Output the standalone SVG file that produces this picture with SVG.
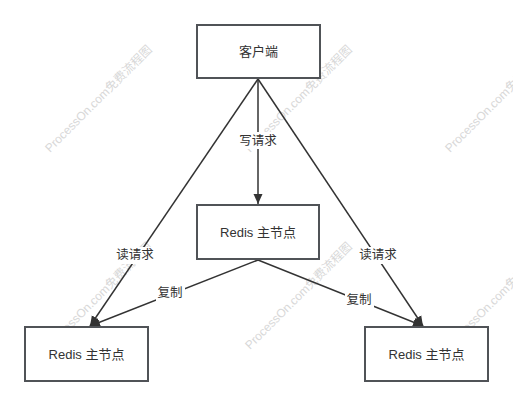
<svg xmlns="http://www.w3.org/2000/svg" width="513" height="407" viewBox="0 0 513 407">
<defs>
<marker id="arr" markerWidth="10" markerHeight="10" viewBox="0 0 10 10" refX="10" refY="5" orient="auto" markerUnits="userSpaceOnUse">
<path d="M0,0.5 L10,5 L0,9.5 Z" fill="#333"/>
</marker>
<style>
.box{fill:#fff;stroke:#505357;stroke-width:2}
.nt{font-family:"Liberation Sans","Noto Sans CJK SC",sans-serif;font-size:13px;fill:#333;text-anchor:middle;dominant-baseline:central}
.lt{font-family:"Liberation Sans","Noto Sans CJK SC",sans-serif;font-size:12.5px;fill:#333;text-anchor:middle;dominant-baseline:central}
.lbg{fill:#fff}
.ln{stroke:#333;stroke-width:1.5;fill:none}
.wm{font-family:"Liberation Sans","Noto Sans CJK SC",sans-serif;font-size:12px;fill:#d8d8d8}
</style>
</defs>
<rect width="513" height="407" fill="#fff"/>
<g id="watermarks">
<text class="wm" transform="translate(50,153) rotate(-45)">ProcessOn.com免费流程图</text>
<text class="wm" transform="translate(250,153) rotate(-45)">ProcessOn.com免费流程图</text>
<text class="wm" transform="translate(450,153) rotate(-45)">ProcessOn.com免费流程图</text>
<text class="wm" transform="translate(50,350) rotate(-45)">ProcessOn.com免费流程图</text>
<text class="wm" transform="translate(250,350) rotate(-45)">ProcessOn.com免费流程图</text>
<text class="wm" transform="translate(450,350) rotate(-45)">ProcessOn.com免费流程图</text>
</g>
<g id="connectors">
<line class="ln" x1="258" y1="79" x2="258" y2="204" marker-end="url(#arr)"/>
<line class="ln" x1="258" y1="79" x2="90" y2="326" marker-end="url(#arr)"/>
<line class="ln" x1="258" y1="79" x2="423" y2="326" marker-end="url(#arr)"/>
<line class="ln" x1="258" y1="260" x2="90" y2="326" marker-end="url(#arr)"/>
<line class="ln" x1="258" y1="260" x2="423" y2="326" marker-end="url(#arr)"/>
<rect class="lbg" x="237" y="132" width="42" height="17"/>
<text class="lt" x="258" y="141">写请求</text>
<rect class="lbg" x="114" y="247" width="42" height="17"/>
<text class="lt" x="135" y="255">读请求</text>
<rect class="lbg" x="357" y="247" width="42" height="17"/>
<text class="lt" x="378" y="255">读请求</text>
<rect class="lbg" x="156" y="285" width="29" height="17"/>
<text class="lt" x="170" y="293">复制</text>
<rect class="lbg" x="345" y="292" width="29" height="17"/>
<text class="lt" x="359" y="300">复制</text>
</g>
<g id="client">
<rect class="box" x="197" y="25" width="123" height="53"/>
<text class="nt" x="258.5" y="51.5">客户端</text>
</g>
<g id="master">
<rect class="box" x="197" y="205" width="122" height="54"/>
<text class="nt" x="258" y="232">Redis 主节点</text>
</g>
<g id="left-node">
<rect class="box" x="25" y="327" width="123" height="54"/>
<text class="nt" x="86.5" y="354">Redis 主节点</text>
</g>
<g id="right-node">
<rect class="box" x="365" y="327" width="123" height="54"/>
<text class="nt" x="426.5" y="354">Redis 主节点</text>
</g>
</svg>
